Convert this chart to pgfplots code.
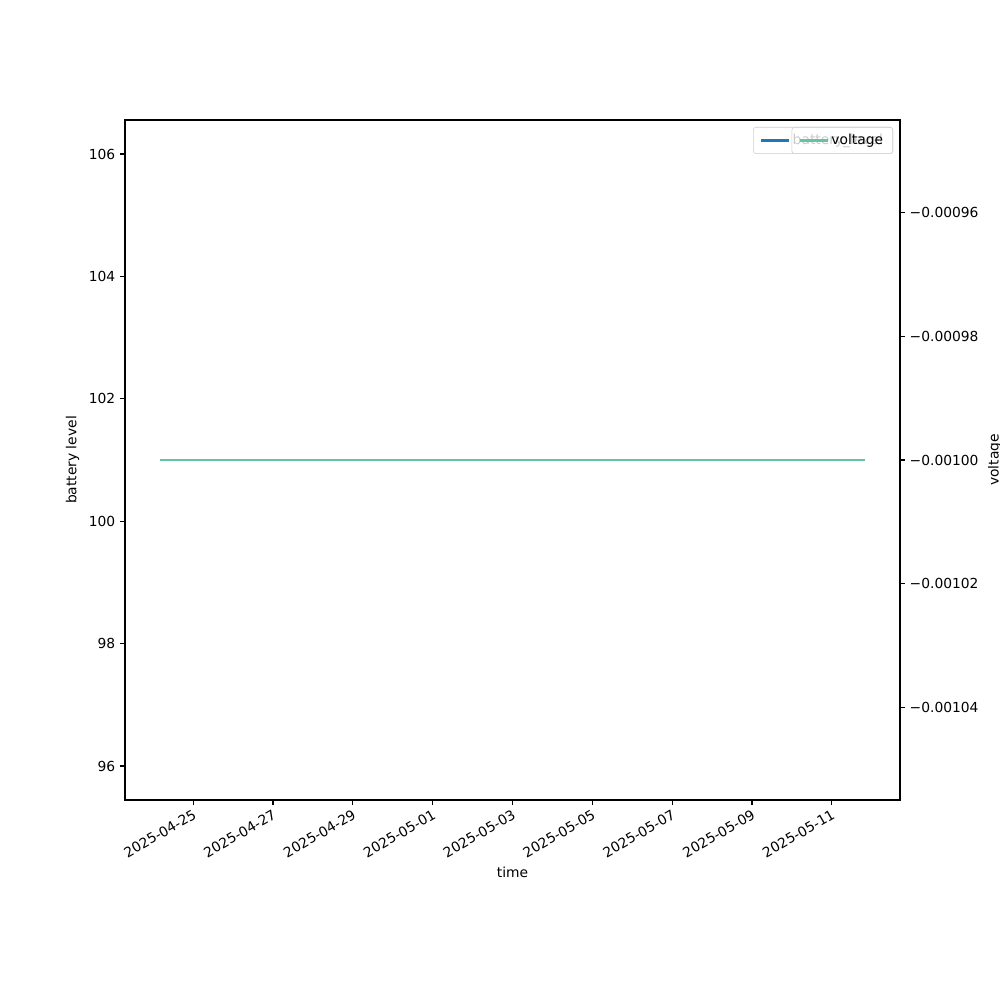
\documentclass[border=0pt]{standalone}
\usepackage{fontspec}
\setmainfont{DejaVu Sans}
\usepackage{pgfplots}
\pgfplotsset{compat=1.18}
\definecolor{mblue}{HTML}{1F77B4}
\definecolor{mgreen}{HTML}{66C2A5}
\begin{document}
\fontsize{10}{12}\selectfont
\begin{tikzpicture}
\pgfplotsset{
  every axis/.append style={
    scale only axis, width=7.75in, height=6.8in,
    xmin=-1.7075, xmax=17.7075,
    axis line style={line width=0.8pt},
    tick style={black, line width=0.8pt},
    major tick length=3.5pt,
    tick align=outside,
    font=\fontsize{10}{12}\selectfont,
    /pgf/number format/assume math mode=true,
    legend cell align=left,
    legend image code/.code={\draw[#1] (0pt,0pt) -- (20pt,0pt);},
    legend style={at={(0.991,0.9897)}, anchor=north east, draw=black!20,
      rounded corners=2pt, fill=white, fill opacity=0.8, text opacity=1,
      inner xsep=5pt, inner ysep=3pt, font=\fontsize{10}{12}\selectfont},
  }
}
\begin{axis}[name=main,
  ymin=95.444, ymax=106.556,
  ytick={96,98,100,102,104,106},
  xtick={0,2,4,6,8,10,12,14,16},
  xticklabels={2025-04-25,2025-04-27,2025-04-29,2025-05-01,2025-05-03,2025-05-05,2025-05-07,2025-05-09,2025-05-11},
  xticklabel style={rotate=30, anchor=north east, inner sep=2pt},
  xtick pos=bottom, ytick pos=left,
  xlabel={time}, ylabel={battery level},
]
\addplot[mblue, line width=1.5pt] coordinates {(-0.825,101) (4,101) (8,101) (12,101) (16.825,101)};
\addlegendentry{battery\_level}
\end{axis}
\begin{axis}[
  axis x line=none, axis y line*=right, ytick pos=right,
  ymin=-0.001055, ymax=-0.000945,
  scaled y ticks=false,
  ytick={-0.00104,-0.00102,-0.001,-0.00098,-0.00096},
  yticklabels={−0.00104,−0.00102,−0.00100,−0.00098,−0.00096},
  ylabel={voltage},
]
\addplot[mgreen, line width=1.5pt] coordinates {(-0.825,-0.001) (4,-0.001) (8,-0.001) (12,-0.001) (16.825,-0.001)};
\addlegendentry{voltage}
\end{axis}
\pgfresetboundingbox
\path[use as bounding box] (main.south west) ++(-1.25in,-2in) rectangle ++(10in,10in);
\end{tikzpicture}
\end{document}
